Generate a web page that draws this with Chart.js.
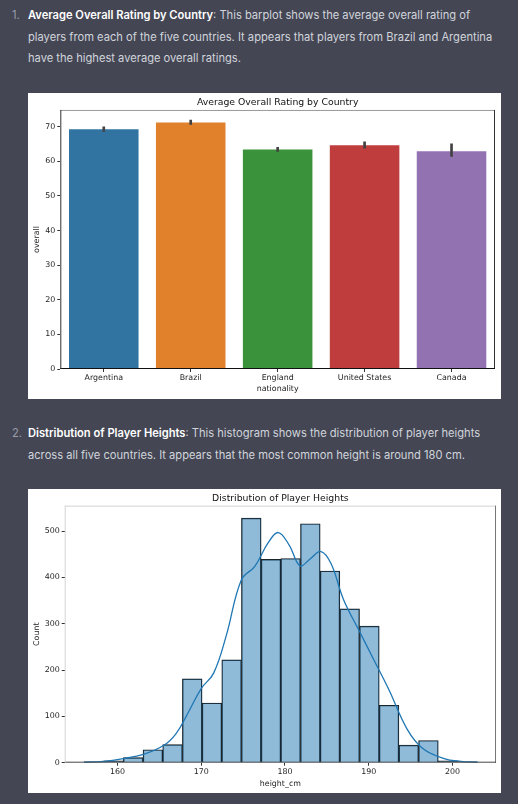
<!DOCTYPE html>
<html lang="en">
<head>
    <meta charset="UTF-8">
    <title>Player charts</title>
    <style>
        body {
            margin: 0;
            width: 518px;
            height: 804px;
            overflow: hidden;
            background-color: #444654;
            font-family: Inter, 'Noto Sans', sans-serif;
            position: relative;
        }

        .item {
            position: absolute;
            left: 28px;
            font-size: 11.15px;
            line-height: 21.6px;
            color: #d1d5db;
            white-space: nowrap;
        }

        .num {
            position: absolute;
            left: -16px;
            color: #9a9bab;
        }

        .item b {
            color: #ffffff;
            font-weight: 600;
        }

        .box {
            position: absolute;
            left: 28px;
            width: 473px;
            background: #ffffff;
        }
    </style>
</head>
<body>
    <div class="item" style="top:5px">
        <span class="num">1.</span><b>Average Overall Rating by Country</b>: This barplot shows the average overall rating of<br>
        players from each of the five countries. It appears that players from Brazil and Argentina<br>
        have the highest average overall ratings.
    </div>
    <div class="box" style="top:93px;height:306px">
        <canvas id="ratingChart" width="473" height="306"></canvas>
    </div>

    <div class="item" style="top:423px">
        <span class="num">2.</span><b>Distribution of Player Heights</b>: This histogram shows the distribution of player heights<br>
        across all five countries. It appears that the most common height is around 180 cm.
    </div>
    <div class="box" style="top:489px;height:304px">
        <canvas id="heightChart" width="473" height="304"></canvas>
    </div>

    <script src="https://cdn.jsdelivr.net/npm/chart.js"></script>
    <script>
        // bar plot data
        const countries = ['Argentina', 'Brazil', 'England', 'United States', 'Canada'];
        const avgOverall = [69.2, 71.2, 63.4, 64.6, 62.9];
        const ciLow = [68.6, 70.6, 62.8, 63.8, 61.4];
        const ciHigh = [69.9, 71.9, 64.0, 65.6, 65.0];
        const barColors = ['#3274a1', '#e1812c', '#3a923a', '#c03d3e', '#9372b2'];
        const ratingTicks = [0, 10, 20, 30, 40, 50, 60, 70];

        // histogram data (bin centres, bin width 2.35 cm)
        const binCenters = [157.18, 159.53, 161.88, 164.23, 166.58, 168.93, 171.28, 173.63, 175.98, 178.33,
                            180.68, 183.03, 185.38, 187.73, 190.08, 192.43, 194.78, 197.13, 199.48, 201.83];
        const binCounts = [2, 4, 11, 28, 39, 181, 129, 222, 528, 439, 441, 516, 414, 332, 295, 124, 38, 48, 4, 2];
        const kdeX = [156, 158.3, 160.7, 163.1, 165.5, 167, 168.5, 170, 171.5, 173, 174.8, 176.4, 178, 179.2,
                      180.5, 181.8, 183, 184.3, 185.5, 187, 188.8, 190.5, 192.4, 194.6, 196.5, 199, 201, 203];
        const kdeY = [1, 3, 9, 18, 37, 63, 110, 160, 194, 275, 395, 424, 475, 497,
                      470, 425, 440, 456, 430, 352, 287, 226, 158, 72, 30, 9, 3, 1];
        const heightTicks = [160, 170, 180, 190, 200];
        const countTicks = [0, 100, 200, 300, 400, 500];

        Chart.defaults.font.family = "'DejaVu Sans', sans-serif";
        Chart.defaults.color = '#222';

        // matplotlib style frame around the plot area
        const framePlugin = {
            id: 'frame',
            afterDatasetsDraw(chart, args, opts) {
                const { left, top, right, bottom } = chart.chartArea;
                const ctx = chart.ctx;
                const side = (x1, y1, x2, y2, color) => {
                    ctx.strokeStyle = color;
                    ctx.beginPath();
                    ctx.moveTo(x1, y1);
                    ctx.lineTo(x2, y2);
                    ctx.stroke();
                };
                ctx.save();
                ctx.lineWidth = 1;
                side(left, top + 0.5, right, top + 0.5, opts.top);
                side(right - 0.5, top, right - 0.5, bottom, opts.right);
                side(left, bottom - 0.5, right, bottom - 0.5, opts.bottom);
                side(left + 0.5, top, left + 0.5, bottom, opts.left);
                ctx.restore();
            }
        };

        function axisTicks(list) {
            return scale => { scale.ticks = list.map(v => ({ value: v })); };
        }

        new Chart(document.getElementById('ratingChart'), {
            type: 'bar',
            data: {
                labels: countries,
                datasets: [{
                    data: countries.map((c, i) => [ciLow[i], ciHigh[i]]),
                    backgroundColor: '#424242',
                    barThickness: 2,
                    grouped: false,
                    order: 0
                }, {
                    data: avgOverall,
                    backgroundColor: barColors,
                    barPercentage: 0.8,
                    categoryPercentage: 1,
                    grouped: false,
                    order: 1
                }]
            },
            options: {
                responsive: false,
                animation: false,
                layout: { padding: { left: 0, right: 6, top: 0, bottom: 0 } },
                plugins: {
                    legend: { display: false },
                    tooltip: { enabled: false },
                    title: {
                        display: true,
                        fullSize: false,
                        text: 'Average Overall Rating by Country',
                        font: { size: 9.3, weight: 'normal' },
                        color: '#111',
                        padding: { top: 3.8, bottom: 2 }
                    },
                    frame: { top: '#999', right: '#333', bottom: '#111', left: '#333' }
                },
                scales: {
                    x: {
                        grid: { drawOnChartArea: false, offset: false, tickLength: 3, color: '#333' },
                        border: { display: false },
                        ticks: { font: { size: 7.9 }, padding: 1.3, maxRotation: 0 },
                        title: { display: true, text: 'nationality', font: { size: 7.9 }, padding: { bottom: 5.2, top: 0 } },
                        afterFit: s => { s.height = 30; }
                    },
                    y: {
                        min: 0,
                        max: 74.8,
                        afterBuildTicks: axisTicks(ratingTicks),
                        grid: { drawOnChartArea: false, tickLength: 3, color: '#333' },
                        border: { display: false },
                        ticks: { font: { size: 7.9 }, padding: 2 },
                        title: { display: true, text: 'overall', font: { size: 7.9 }, padding: { top: 4.5, bottom: 0 } },
                        afterFit: s => { s.width = 32.3; }
                    }
                }
            },
            plugins: [framePlugin]
        });

        new Chart(document.getElementById('heightChart'), {
            type: 'bar',
            data: {
                datasets: [{
                    type: 'line',
                    data: kdeX.map((x, i) => ({ x: x, y: kdeY[i] })),
                    borderColor: '#1f77b4',
                    borderWidth: 1.3,
                    pointRadius: 0,
                    tension: 0.4,
                    fill: false,
                    order: 0
                }, {
                    data: binCenters.map((x, i) => ({ x: x, y: binCounts[i] })),
                    backgroundColor: 'rgba(31, 119, 180, 0.5)',
                    borderColor: '#1a1a1a',
                    borderWidth: 0.75,
                    barPercentage: 1,
                    categoryPercentage: 1,
                    order: 1
                }]
            },
            options: {
                responsive: false,
                animation: false,
                layout: { padding: { left: 0, right: 5, top: 0, bottom: 0 } },
                plugins: {
                    legend: { display: false },
                    tooltip: { enabled: false },
                    title: {
                        display: true,
                        fullSize: false,
                        text: 'Distribution of Player Heights',
                        font: { size: 9.3, weight: 'normal' },
                        color: '#111',
                        padding: { top: 3.8, bottom: 1.7 }
                    },
                    frame: { top: '#d4d4d4', right: '#777', bottom: '#444', left: '#d4d4d4' }
                },
                scales: {
                    x: {
                        type: 'linear',
                        min: 153.7,
                        max: 205.2,
                        offset: false,
                        afterBuildTicks: axisTicks(heightTicks),
                        grid: { drawOnChartArea: false, offset: false, tickLength: 3, color: '#333' },
                        border: { display: false },
                        ticks: { font: { size: 7.9 }, padding: 1.6 },
                        title: { display: true, text: 'height_cm', font: { size: 7.9 }, padding: { bottom: 4.8, top: 0 } },
                        afterFit: s => { s.height = 30.3; }
                    },
                    y: {
                        min: 0,
                        max: 555,
                        afterBuildTicks: axisTicks(countTicks),
                        grid: { drawOnChartArea: false, tickLength: 3, color: '#333' },
                        border: { display: false },
                        ticks: { font: { size: 7.9 }, padding: 2 },
                        title: { display: true, text: 'Count', font: { size: 7.9 }, padding: { top: 4.2, bottom: 0 } },
                        afterFit: s => { s.width = 36.7; }
                    }
                }
            },
            plugins: [framePlugin]
        });
    </script>
</body>
</html>
